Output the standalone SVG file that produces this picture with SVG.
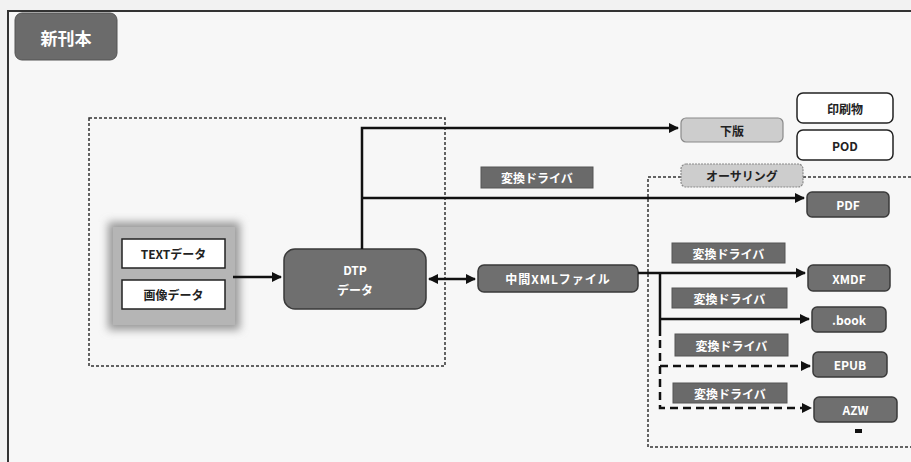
<svg xmlns="http://www.w3.org/2000/svg" width="911" height="462" viewBox="0 0 911 462">
<defs>
<style>
.t{font-family:"Noto Sans CJK JP","Noto Sans",sans-serif;font-weight:bold;text-anchor:middle;dominant-baseline:central}
.w{fill:#ffffff;font-size:12px}
.d{fill:#222222;font-size:12px}
.dark{fill:#6f6f6f;stroke:#3a3a3a;stroke-width:1.5}
.drv{fill:#6a6a6a;stroke:#555555;stroke-width:1}
.light{fill:#cdcdcd;stroke:#8a8a8a;stroke-width:1.2}
.white{fill:#ffffff;stroke:#222222;stroke-width:1.5}
.dot{fill:none;stroke:#333333;stroke-width:1.5;stroke-dasharray:3 2}
.ln{fill:none;stroke:#111111;stroke-width:2.5}
.dash{fill:none;stroke:#111111;stroke-width:2.5;stroke-dasharray:8 5}
</style>
<marker id="ah" viewBox="0 0 10 10" refX="9" refY="5" markerWidth="4" markerHeight="4" orient="auto-start-reverse" markerUnits="strokeWidth">
<path d="M0,0 L10,5 L0,10 z" fill="#111111"/>
</marker>
<filter id="blur" x="-20%" y="-20%" width="140%" height="140%">
<feGaussianBlur stdDeviation="4"/>
</filter>
</defs>
<rect width="911" height="462" fill="#f2f2f2"/>
<rect x="8" y="11" width="920" height="470" fill="#f7f7f7" stroke="#333333" stroke-width="2"/>

<g id="label-shinkanbon">
<rect x="15" y="13" width="102" height="47" rx="7" fill="#6b6b6b" stroke="#555555"/>
<text class="t" x="66" y="37" fill="#ffffff" font-size="17">新刊本</text>
</g>

<g id="dtp-area">
<rect class="dot" x="89" y="118" width="356" height="248"/>
</g>
<g id="authoring-area">
<path class="dot" d="M681,177 H648 V447 H915 M803,177 H915"/>
</g>

<g id="source-group">
<rect x="108" y="222" width="132" height="108" fill="#9a9a9a" filter="url(#blur)"/>
<rect x="113" y="227" width="122" height="98" fill="#b5b5b5"/>
</g>
<g id="text-data">
<rect x="122" y="239" width="103" height="29" fill="#ffffff" stroke="#222222" stroke-width="1.5"/>
<text class="t d" x="173.5" y="253.5">TEXTデータ</text>
</g>
<g id="image-data">
<rect x="122" y="280" width="103" height="29" fill="#ffffff" stroke="#222222" stroke-width="1.5"/>
<text class="t d" x="173.5" y="294.5">画像データ</text>
</g>

<g id="dtp-data">
<rect class="dark" x="284" y="249" width="142" height="60" rx="11"/>
<text class="t w" x="355" y="269">DTP</text>
<text class="t w" x="355" y="289">データ</text>
</g>

<g id="xml-file">
<rect class="dark" x="478" y="265" width="160" height="27" rx="6"/>
<text class="t w" x="558" y="278.5" font-size="13" letter-spacing="1">中間XMLファイル</text>
</g>

<g id="hanpan">
<rect class="light" x="681" y="118" width="102" height="24" rx="5"/>
<text class="t d" x="732" y="130">下版</text>
</g>
<g id="insatsubutsu">
<rect class="white" x="797" y="93" width="96" height="30" rx="6"/>
<text class="t d" x="845" y="108" font-size="13">印刷物</text>
</g>
<g id="pod">
<rect class="white" x="797" y="130" width="96" height="30" rx="6"/>
<text class="t d" x="845" y="145">POD</text>
</g>
<g id="authoring">
<rect class="light" x="681" y="164" width="122" height="23" rx="5" stroke-dasharray="2 1"/>
<text class="t d" x="742" y="175.5">オーサリング</text>
</g>

<g id="pdf">
<rect class="dark" x="807" y="192" width="82" height="25" rx="5"/>
<text class="t w" x="848" y="204.5">PDF</text>
</g>
<g id="xmdf">
<rect class="dark" x="808" y="265" width="82" height="26" rx="5"/>
<text class="t w" x="849" y="278">XMDF</text>
</g>
<g id="book">
<rect class="dark" x="812" y="307" width="74" height="25" rx="5"/>
<text class="t w" x="849" y="319.5">.book</text>
</g>
<g id="epub">
<rect class="dark" x="813" y="352" width="74" height="25" rx="5"/>
<text class="t w" x="850" y="364.5">EPUB</text>
</g>
<g id="azw">
<rect class="dark" x="814" y="397" width="83" height="25" rx="5"/>
<text class="t w" x="855.5" y="409.5">AZW</text>
<rect x="855" y="429" width="7" height="4" fill="#111111"/>
</g>

<g id="driver-1">
<rect class="drv" x="481" y="167" width="112" height="21"/>
<text class="t w" x="537" y="177.5">変換ドライバ</text>
</g>
<g id="driver-2">
<rect class="drv" x="672" y="243" width="113" height="20"/>
<text class="t w" x="728.5" y="253">変換ドライバ</text>
</g>
<g id="driver-3">
<rect class="drv" x="672" y="288" width="115" height="20"/>
<text class="t w" x="729.5" y="298">変換ドライバ</text>
</g>
<g id="driver-4">
<rect class="drv" x="675" y="334" width="113" height="22"/>
<text class="t w" x="731.5" y="345">変換ドライバ</text>
</g>
<g id="driver-5">
<rect class="drv" x="673" y="383" width="114" height="20"/>
<text class="t w" x="730" y="393">変換ドライバ</text>
</g>

<g id="connectors">
<path class="ln" d="M233,277 H281" marker-end="url(#ah)" stroke-width="2"/>
<path class="ln" d="M362,249 V128 H678" marker-end="url(#ah)"/>
<path class="ln" d="M362,198 H804" marker-end="url(#ah)"/>
<path class="ln" d="M429,279 H475" marker-start="url(#ah)" marker-end="url(#ah)" stroke-width="2"/>
<path class="ln" d="M638,273 H805" marker-end="url(#ah)"/>
<path class="ln" d="M660,273 V336"/>
<path class="ln" d="M660,319 H809" marker-end="url(#ah)"/>
<path class="dash" d="M660,340 V408 H811" marker-end="url(#ah)"/>
<path class="dash" d="M660,366 H810" marker-end="url(#ah)"/>
</g>
</svg>
